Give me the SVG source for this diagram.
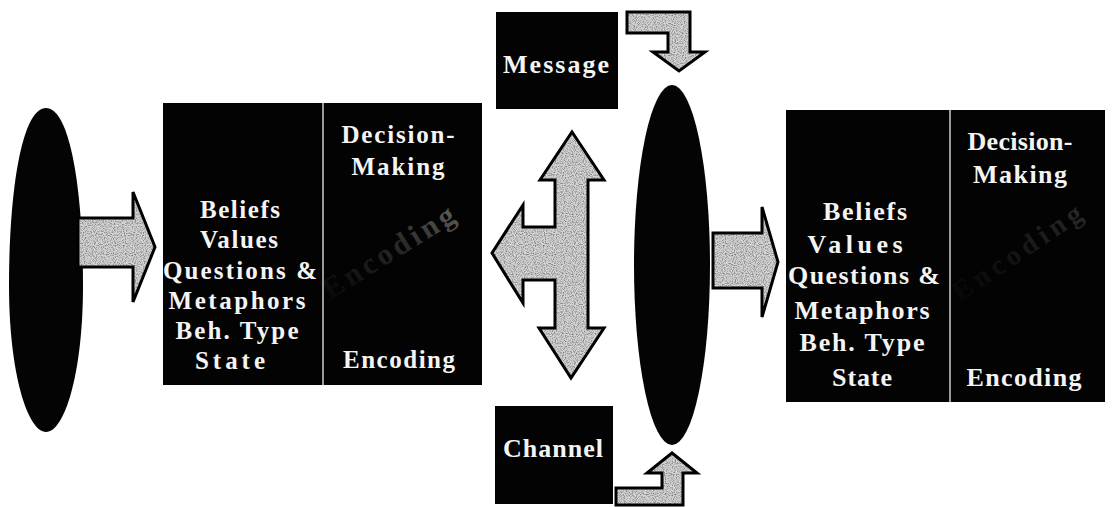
<svg xmlns="http://www.w3.org/2000/svg" width="1114" height="507" viewBox="0 0 1114 507">
<style>
.box{fill:#030303;}
.div{stroke:#ffffff;stroke-width:1.2;}
.t{font-family:"Liberation Serif","Times New Roman",serif;font-weight:bold;fill:#f4f4f4;text-anchor:middle;}
.arrow{fill:url(#stipple);stroke:#000;stroke-width:3;stroke-linejoin:miter;}
.blob{fill:#040404;}
</style>
<defs>
<filter id="grain" x="0" y="0" width="100%" height="100%">
<feTurbulence type="fractalNoise" baseFrequency="0.9" numOctaves="1" seed="3" result="n"/>
<feColorMatrix in="n" type="matrix" values="0 0 0 0 0  0 0 0 0 0  0 0 0 0 0  0 0 0 -2.2 1.25" result="dots"/>
<feComposite in="dots" in2="SourceGraphic" operator="in"/>
</filter>
<pattern id="stipple" patternUnits="userSpaceOnUse" width="60" height="60">
<rect width="60" height="60" fill="#d4d4d4"/>
<rect width="60" height="60" fill="#000" filter="url(#grain)" opacity="0.55"/>
</pattern>
<linearGradient id="fadeL" gradientUnits="userSpaceOnUse" x1="330" y1="295" x2="465" y2="208">
<stop offset="0" stop-color="#777" stop-opacity="0.05"/>
<stop offset="0.5" stop-color="#888" stop-opacity="0.3"/>
<stop offset="1" stop-color="#aaa" stop-opacity="0.75"/>
</linearGradient>
<linearGradient id="fadeR" gradientUnits="userSpaceOnUse" x1="960" y1="300" x2="1088" y2="213">
<stop offset="0" stop-color="#555" stop-opacity="0.05"/>
<stop offset="1" stop-color="#888" stop-opacity="0.35"/>
</linearGradient>
</defs>

<g id="sender-oval">
<path class="blob" d="M46,108 C70,108 83,190 83,285 C83,375 64,432 46,432 C28,432 9,375 9,285 C9,190 22,108 46,108 Z"/>
</g>

<g id="receiver-oval">
<ellipse class="blob" cx="672" cy="265" rx="38" ry="180"/>
</g>

<g id="sender-box">
<rect class="box" x="163" y="103" width="319" height="282"/>
<line class="div" x1="323" y1="103" x2="323" y2="385"/>
<text class="t" font-size="25" x="240" y="218" textLength="80" lengthAdjust="spacing">Beliefs</text>
<text class="t" font-size="25" x="239" y="248" textLength="78" lengthAdjust="spacing">Values</text>
<text class="t" font-size="25" x="240" y="279" textLength="154" lengthAdjust="spacing">Questions &amp;</text>
<text class="t" font-size="25" x="237" y="309" textLength="137" lengthAdjust="spacing">Metaphors</text>
<text class="t" font-size="25" x="237" y="339" textLength="123" lengthAdjust="spacing">Beh. Type</text>
<text class="t" font-size="25" x="230" y="369" textLength="70" lengthAdjust="spacing">State</text>
<text class="t" font-size="25" x="398" y="143" textLength="113" lengthAdjust="spacing">Decision-</text>
<text class="t" font-size="25" x="398" y="175" textLength="93" lengthAdjust="spacing">Making</text>
<text class="t" font-size="25" x="399" y="368" textLength="112" lengthAdjust="spacing">Encoding</text>
<text font-family="Liberation Serif, serif" font-weight="bold" font-size="30" fill="url(#fadeL)" x="330" y="300" transform="rotate(-32 330 300)" textLength="150" lengthAdjust="spacing">Encoding</text>
</g>

<g id="receiver-box">
<rect class="box" x="786" y="110" width="319" height="292"/>
<line class="div" x1="950" y1="110" x2="950" y2="402"/>
<text class="t" font-size="26" x="865" y="220" textLength="84" lengthAdjust="spacing">Beliefs</text>
<text class="t" font-size="26" x="855" y="253" textLength="95" lengthAdjust="spacing">Values</text>
<text class="t" font-size="26" x="864" y="284" textLength="152" lengthAdjust="spacing">Questions &amp;</text>
<text class="t" font-size="26" x="862" y="319" textLength="135" lengthAdjust="spacing">Metaphors</text>
<text class="t" font-size="26" x="862" y="351" textLength="125" lengthAdjust="spacing">Beh. Type</text>
<text class="t" font-size="26" x="862" y="386" textLength="60" lengthAdjust="spacing">State</text>
<text class="t" font-size="26" x="1020" y="150" textLength="105" lengthAdjust="spacing">Decision-</text>
<text class="t" font-size="26" x="1020" y="183" textLength="94" lengthAdjust="spacing">Making</text>
<text class="t" font-size="26" x="1024" y="386" textLength="115" lengthAdjust="spacing">Encoding</text>
<text font-family="Liberation Serif, serif" font-weight="bold" font-size="28" fill="url(#fadeR)" x="960" y="302" transform="rotate(-34 960 302)" textLength="150" lengthAdjust="spacing">Encoding</text>
</g>

<g id="message">
<rect class="box" x="496" y="12" width="122" height="97"/>
<text class="t" font-size="26" x="556" y="73" textLength="106" lengthAdjust="spacing">Message</text>
</g>

<g id="channel">
<rect class="box" x="495" y="406" width="118" height="98"/>
<text class="t" font-size="26" x="553" y="457" textLength="100" lengthAdjust="spacing">Channel</text>
</g>

<g id="connectors">
<polygon class="arrow" points="78,218 133,218 133,192 155,247 133,302 133,267 78,267"/>
<polygon class="arrow" points="713,233 762,233 762,207 778,262 762,317 762,288 713,288"/>
<polygon class="arrow" points="572,132 604,180 588,180 588,328 604,328 571,378 539,328 555,328 555,280 523,280 523,303 492,253 523,205 523,227 555,227 555,180 540,180"/>
<polygon class="arrow" points="627,12 690,12 690,52 705,52 679,71 653,52 668,52 668,33 627,33"/>
<polygon class="arrow" points="672,453 697,473 683,473 683,505 616,505 616,488 662,488 662,473 647,473"/>
</g>
</svg>
